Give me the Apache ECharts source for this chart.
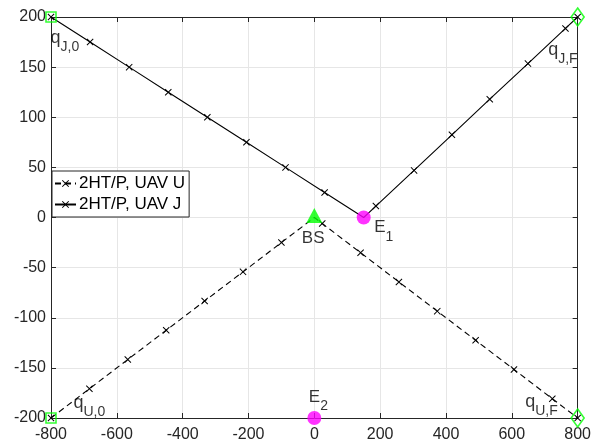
<!DOCTYPE html>
<html>
<head>
<meta charset="utf-8">
<script src="https://cdn.jsdelivr.net/npm/echarts@6/dist/echarts.min.js"></script>
<style>html,body{margin:0;padding:0;background:#fff}#c{width:594px;height:448px}</style>
</head>
<body>
<div id="c"></div>
<script>
// ---- data ----
var uavUX = [-800, -683.3, -566.7, -450, -333.3, -216.7, -100, 0, 24, 140.5, 257, 373.5, 490, 606.5, 723, 800];
var uavUY = [-200, -170.8, -141.7, -112.5, -83.3, -54.2, -25, 0, -6, -35.1, -64.3, -93.4, -122.5, -151.6, -180.8, -200];
var uavUMark = [1, 1, 1, 1, 1, 1, 1, 0, 1, 1, 1, 1, 1, 1, 1, 1];
var uavJX = [-800, -681.25, -562.5, -443.75, -325, -206.25, -87.5, 31.25, 150, 187, 303, 418, 533, 649, 763, 800];
var uavJY = [200, 175, 150, 125, 100, 75, 50, 25, 0, 11.4, 47, 82.5, 118, 153.5, 188.6, 200];
var uavJMark = [1, 1, 1, 1, 1, 1, 1, 1, 0, 1, 1, 1, 1, 1, 1, 1];
var startPts = [[-800, 200], [-800, -200]];
var finalPts = [[800, 200], [800, -200]];
var bsPt = [[0, 0]];
var eavesPts = [[150, 0], [0, -200]];
var xTicks = {min: -800, max: 800, step: 200};
var yTicks = {min: -200, max: 200, step: 50};
var seriesNames = ['2HT/P, UAV U', '2HT/P, UAV J'];
// text annotations: [x, y, main, sub]
var annX = [-800, 800, -800, 800, 0, 150, 0];
var annY = [200, 200, -200, -200, 0, 0, -200];
var annMain = ['q', 'q', 'q', 'q', 'BS', 'E', 'E'];
var annSub = ['J,0', 'J,F', 'U,0', 'U,F', '', '1', '2'];

// ---- styling (positions in px) ----
var annOffset = [[0, 5], [-29, 17], [23, -31], [-52, -32], [-12, 13], [11, -6], [-5, -37]];
var FONT = '"Liberation Sans", Arial, Helvetica, sans-serif';
var AX = '#262626';
var XSYM = 'path://M1,0L5,4L9,0L10,1L6,5L10,9L9,10L5,6L1,10L0,9L4,5L0,1Z';

function traj(xs, ys, marks) {
  return xs.map(function (x, i) {
    var d = {value: [x, ys[i]]};
    if (!marks[i]) d.symbol = 'none';
    return d;
  });
}

var annData = annX.map(function (x, i) {
  var isQ = annMain[i] === 'q';
  var txt = annSub[i] ? '{m|' + annMain[i] + '}{s|' + annSub[i] + '}' : '{p|' + annMain[i] + '}';
  return {
    value: [x, annY[i]],
    label: {
      show: true,
      position: annOffset[i],
      align: 'left',
      verticalAlign: 'top',
      formatter: txt,
      rich: {
        m: {fontSize: isQ ? 18 : 17, fontFamily: FONT, color: '#000'},
        s: {fontSize: 14, fontFamily: FONT, color: '#000', padding: [19, 0, 0, 0]},
        p: {fontSize: 17, fontFamily: FONT, color: '#000', lineHeight: 17}
      }
    }
  };
});

var axisCommonX = {
  type: 'value', min: xTicks.min, max: xTicks.max, interval: xTicks.step,
  axisLine: {show: true, onZero: false, lineStyle: {color: AX, width: 1}},
  axisTick: {show: true, inside: true, length: 5, lineStyle: {color: AX}}
};
var axisCommonY = {
  type: 'value', min: yTicks.min, max: yTicks.max, interval: yTicks.step,
  axisLine: {show: true, onZero: false, lineStyle: {color: AX, width: 1}},
  axisTick: {show: true, inside: true, length: 5, lineStyle: {color: AX}}
};

var chart = echarts.init(document.getElementById('c'), null, {renderer: 'canvas'});
chart.setOption({
  animation: false,
  backgroundColor: '#fff',
  grid: {left: 51, right: 16, top: 17, bottom: 30, containLabel: false},
  xAxis: [
    Object.assign({}, axisCommonX, {
      position: 'bottom',
      axisLabel: {show: true, margin: 9, fontSize: 16, fontFamily: FONT, color: AX},
      splitLine: {show: true, lineStyle: {color: '#e6e6e6', width: 1}}
    }),
    Object.assign({}, axisCommonX, {
      position: 'top',
      axisLabel: {show: false},
      splitLine: {show: false}
    })
  ],
  yAxis: [
    Object.assign({}, axisCommonY, {
      position: 'left',
      axisLabel: {show: true, margin: 5, fontSize: 16, fontFamily: FONT, color: AX},
      splitLine: {show: true, lineStyle: {color: '#e6e6e6', width: 1}}
    }),
    Object.assign({}, axisCommonY, {
      position: 'right',
      axisLabel: {show: false},
      splitLine: {show: false}
    })
  ],
  legend: {
    data: seriesNames,
    orient: 'vertical',
    left: 52, top: 171,
    padding: [4, 4, 4, 2],
    itemGap: 4,
    itemWidth: 21,
    itemHeight: 9,
    backgroundColor: '#fff',
    borderColor: AX,
    borderWidth: 1,
    borderRadius: 0,
    textStyle: {fontSize: 17, fontFamily: FONT, color: '#000', padding: [0, 0, 0, -2]}
  },
  series: [
    {
      name: seriesNames[0], type: 'line',
      data: traj(uavUX, uavUY, uavUMark),
      symbol: XSYM, symbolSize: 7, showAllSymbol: true,
      lineStyle: {color: '#000', width: 1.1, type: [6, 4]},
      itemStyle: {color: '#000'},
      z: 3
    },
    {
      name: seriesNames[1], type: 'line',
      data: traj(uavJX, uavJY, uavJMark),
      symbol: XSYM, symbolSize: 7, showAllSymbol: true,
      lineStyle: {color: '#000', width: 1.1, type: 'solid'},
      itemStyle: {color: '#000'},
      z: 3
    },
    {
      type: 'scatter', data: startPts, symbol: 'rect', symbolSize: 10,
      itemStyle: {color: 'transparent', borderColor: '#00ff00', borderWidth: 1.6}, z: 4
    },
    {
      type: 'scatter', data: finalPts, symbol: 'diamond', symbolSize: [13, 18],
      itemStyle: {color: 'transparent', borderColor: '#00ff00', borderWidth: 1.6}, z: 4
    },
    {
      type: 'scatter', data: bsPt, symbol: 'triangle', symbolSize: [16, 15], symbolOffset: [0, -2],
      itemStyle: {color: '#00ff00'}, z: 4
    },
    {
      type: 'scatter', data: eavesPts, symbol: 'circle', symbolSize: 14,
      itemStyle: {color: '#ff00ff'}, z: 4
    },
    {
      type: 'scatter', data: annData, symbolSize: 1,
      itemStyle: {color: 'transparent'}, z: 5, silent: true
    }
  ]
});
</script>
</body>
</html>
